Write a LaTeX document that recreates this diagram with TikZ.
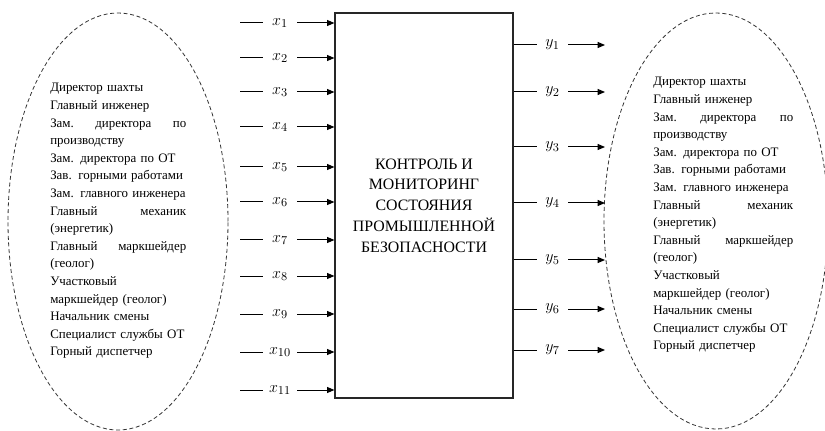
\documentclass[tikz,border=0pt]{standalone}
\usepackage{fontspec}
\setmainfont{Liberation Serif}
\usetikzlibrary{arrows.meta,positioning,shapes.geometric}
\tikzset{
  signal/.style={-{Triangle[length=5.5pt,width=4.5pt]}, line width=0.75pt, draw=black},
  wire/.style={line width=0.75pt, draw=black},
  block/.style={draw=black!85, line width=0.9pt, rectangle, minimum width=133.5pt, minimum height=288.75pt, align=center, font=\fontsize{11.9}{15.6}\selectfont},
  group/.style={draw=black!80, ellipse, dash pattern=on 3pt off 2pt, line width=0.6pt},
  staff/.style={font=\fontsize{9.7}{13.2}\selectfont, align=left, inner sep=0pt, anchor=west},
  invar/.style={font=\fontsize{13}{13}\selectfont, inner sep=0pt, minimum width=25.5pt},
  outvar/.style={font=\fontsize{13}{13}\selectfont, inner sep=0pt, minimum width=23.25pt}
}

\begin{document}
\begin{tikzpicture}[x=0.75pt, y=-0.75pt]
  \useasboundingbox (0,0) rectangle (825,431);
  \clip (0,0) rectangle (825,431);
  % control block
  \node[block] (ctrl) at (424,205.5) {КОНТРОЛЬ И\\МОНИТОРИНГ\\СОСТОЯНИЯ\\ПРОМЫШЛЕННОЙ\\БЕЗОПАСНОСТИ};
  % groups of staff
  \node[group, minimum width=165pt, minimum height=312.75pt] (grpin) at (118,221.5) {};
  \node[group, minimum width=168pt, minimum height=312pt] (grpout) at (716,221) {};
  \node[staff, text width=102pt] (staffin) at (50,221) {Директор шахты\\Главный инженер\\Зам.\hfill директора\hfill по\\производству\\Зам. директора по ОТ\\Зав. горными работами\\Зам. главного инженера\\Главный\hfill механик\\(энергетик)\\Главный\hfill маркшейдер\\(геолог)\\Участковый\\маркшейдер (геолог)\\Начальник смены\\Специалист службы ОТ\\Горный диспетчер};
  \node[staff, text width=105pt] (staffout) at (653,215) {Директор шахты\\Главный инженер\\Зам.\hfill директора\hfill по\\производству\\Зам. директора по ОТ\\Зав. горными работами\\Зам. главного инженера\\Главный\hfill механик\\(энергетик)\\Главный\hfill маркшейдер\\(геолог)\\Участковый\\маркшейдер (геолог)\\Начальник смены\\Специалист службы ОТ\\Горный диспетчер};
  % inputs
  \foreach \i/\yy in {1/23,2/58,3/92,4/127,5/167,6/202,7/240,8/276,9/314,10/352,11/390}{
    \coordinate (xs\i) at (240,\yy);
    \node[invar] (x\i) at (280,\yy) {$x_{\i}$};
    \draw[wire] (xs\i) -- (x\i.west |- xs\i);
    \draw[signal] (x\i.east |- xs\i) -- (ctrl.west |- xs\i);
  }
  % outputs
  \foreach \i/\yy in {1/45,2/92,3/147,4/203,5/260,6/309,7/350}{
    \coordinate (ye\i) at (605,\yy);
    \node[outvar] (y\i) at (552.5,\yy) {$y_{\i}$};
    \draw[wire] (ctrl.east |- ye\i) -- (y\i.west |- ye\i);
    \draw[signal] (y\i.east |- ye\i) -- (ye\i);
  }
\end{tikzpicture}
\end{document}
